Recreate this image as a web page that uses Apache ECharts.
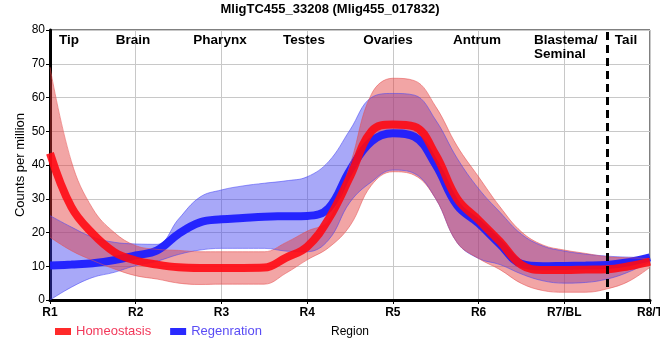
<!DOCTYPE html>
<html>
<head>
<meta charset="utf-8">
<script src="https://cdn.jsdelivr.net/npm/echarts@6/dist/echarts.min.js"></script>
<style>html,body{margin:0;padding:0;background:#fff;overflow:hidden}#c{width:660px;height:360px}</style>
</head>
<body>
<div id="c"></div>
<script>
// Region tick labels (one per whole step) and tissue labels on top
const regions = ['R1','R2','R3','R4','R5','R6','R7/BL','R8/T'];
const tissues = ['Tip','Brain','Pharynx','Testes','Ovaries','Antrum','Blastema/\nSeminal','Tail'];
// sample positions along the body axis (quarter steps between regions)
const positions = ['0','0.25','0.5','0.75','1','1.25','1.5','1.75','2','2.25','2.5','2.75','3','3.25','3.5','3.75','4','4.25','4.5','4.75','5','5.25','5.5','5.75','6','6.25','6.5','6.75','7'];

// Homeostasis (red)
const homeoMean  = [43.5,27.5,19.6,14.2,11.7,10.5,9.7,9.5,9.5,9.5,9.6,12.5,15.8,24,36.5,50,52,51.4,43,30,23.7,17.3,10.4,8.9,8.9,9,9.1,10,11.4];
const homeoUpper = [69,41,27,20,16.1,15,14.7,14.3,14.3,14.3,14.3,17,20.4,23.5,40,61,65.7,65,57.3,45.6,36.5,27.6,20.2,16.3,14.8,13.8,12.8,12.5,12.3];
const homeoLower = [18.6,14.6,11.7,9.2,7.2,6.2,5,4.6,4.7,4.7,4.7,7.9,11.9,15.5,22,34,38,37,30,17,12.3,9,4.9,2.8,2.3,2.3,3.3,5.5,9.7];

// Regeneration (blue)
const regenMean  = [10.2,10.5,10.9,11.8,13.2,14.7,19.6,23,23.9,24.3,24.7,24.8,24.9,27.2,38.5,47,49.4,48.4,40,28,22.7,16.5,10.7,10,10.1,10.2,10.4,11.2,12.6];
const regenUpper = [25,21.6,18.6,17.1,16.6,16.5,24,30.5,32.6,33.8,34.6,35.3,36.5,41,50.4,60,61.2,60.7,53.3,42,33,26,19.5,16,14.5,13.6,13,12.7,12.5];
const regenLower = [0,3.8,6.7,8.2,10.2,11.5,13.5,14.8,15.3,15.3,15.3,14.5,14.3,17.8,29,35,38.5,37.5,30,17,12.3,10.5,7.7,5.7,5,5.2,6.2,8.3,11.3];

// y-axis ticks
const yMin = 0, yMax = 80, yStep = 10;
const boundaryIndex = 26; // dashed line between R7/BL and R8/T

const diff = (u, l) => u.map((v, i) => +(v - l[i]).toFixed(2));
const FONT = 'Liberation Sans, Arial, sans-serif';

const chart = echarts.init(document.getElementById('c'), null, {renderer: 'canvas'});

const bandLine = (c) => ({width: 1, color: c});
const smoothVal = 0.4;

const option = {
  animation: false,
  textStyle: {fontFamily: FONT},
  title: {
    text: 'MligTC455_33208 (Mlig455_017832)',
    left: 'center', top: 3, padding: 0,
    textStyle: {fontSize: 13, fontWeight: 'bold', color: '#000', fontFamily: FONT}
  },
  grid: {left: 50, right: 10, top: 30, bottom: 60, containLabel: false, outerBoundsMode: 'none',
         show: true, borderColor: '#000', borderWidth: 1, backgroundColor: 'transparent'},
  legend: {
    left: 50, top: 320, itemWidth: 16, itemHeight: 7, itemGap: 19, icon: 'rect',
    data: [
      {name: 'Homeostasis', textStyle: {color: '#f2385a'}},
      {name: 'Regenration', textStyle: {color: '#5a4cf5'}}
    ],
    textStyle: {fontSize: 13, fontFamily: FONT}
  },
  xAxis: {
    type: 'category', boundaryGap: false, data: positions,
    name: 'Region', nameLocation: 'middle', nameGap: 26,
    nameTextStyle: {fontSize: 12, color: '#000', fontFamily: FONT},
    axisLine: {lineStyle: {color: '#000', width: 3}},
    axisTick: {interval: 3, length: 4, lineStyle: {color: '#000', width: 1}},
    axisLabel: {
      interval: 3, margin: 7, fontSize: 12, fontWeight: 'bold', color: '#000', fontFamily: FONT,
      formatter: (v, i) => (i % 4 === 0 ? regions[i / 4] : '')
    },
    splitLine: {show: true, interval: 3, lineStyle: {color: '#c8c8c8', width: 1}}
  },
  yAxis: {
    type: 'value', min: yMin, max: yMax, interval: yStep,
    name: 'Counts per million', nameLocation: 'middle', nameGap: 23, nameRotate: 90, nameMoveOverlap: false,
    nameTextStyle: {fontSize: 13, color: '#000', fontFamily: FONT},
    axisLine: {show: true, lineStyle: {color: '#000', width: 3}},
    axisTick: {show: true, length: 4, lineStyle: {color: '#000', width: 1}},
    axisLabel: {margin: 5, fontSize: 12, color: '#000', fontFamily: FONT},
    splitLine: {lineStyle: {color: '#c8c8c8', width: 1}}
  },
  series: [
    {name: 'regLowerBase', type: 'line', stack: 'reg', data: regenLower, smooth: smoothVal, symbol: 'none',
     lineStyle: bandLine('rgba(70,70,245,0.55)'), silent: true},
    {name: 'regBand', type: 'line', stack: 'reg', data: diff(regenUpper, regenLower), smooth: smoothVal, symbol: 'none',
     lineStyle: bandLine('rgba(70,70,245,0.55)'), areaStyle: {color: 'rgba(62,62,240,0.45)', opacity: 1}, silent: true},
    {name: 'Regenration', type: 'line', data: regenMean, smooth: smoothVal, symbol: 'none',
     itemStyle: {color: '#2a2aff'}, lineStyle: {width: 8, color: 'rgba(30,30,255,0.95)'}},
    {name: 'homLowerBase', type: 'line', stack: 'hom', data: homeoLower, smooth: smoothVal, symbol: 'none',
     lineStyle: bandLine('rgba(230,80,80,0.55)'), silent: true},
    {name: 'homBand', type: 'line', stack: 'hom', data: diff(homeoUpper, homeoLower), smooth: smoothVal, symbol: 'none',
     lineStyle: bandLine('rgba(230,80,80,0.55)'), areaStyle: {color: 'rgba(226,55,55,0.45)', opacity: 1}, silent: true},
    {name: 'Homeostasis', type: 'line', data: homeoMean, smooth: smoothVal, symbol: 'none',
     itemStyle: {color: '#ff2a2a'}, lineStyle: {width: 8, color: 'rgba(255,10,20,0.9)'},
     markLine: {silent: true, symbol: 'none', label: {show: false},
       lineStyle: {color: '#000', width: 3, type: [8, 5]},
       data: [{xAxis: boundaryIndex}]}}
  ]
};
chart.setOption(option);

// tissue labels above each region
const labelX = [69, 133, 220, 304, 388, 477, 534, 626];
chart.setOption({graphic: tissues.map((t, i) => ({
  type: 'text', x: labelX[i], y: 33,
  style: {text: t, font: 'bold 13.5px ' + FONT, fill: '#000', textAlign: i === 6 ? 'left' : 'center', lineHeight: 14}
}))});
</script>
</body>
</html>
